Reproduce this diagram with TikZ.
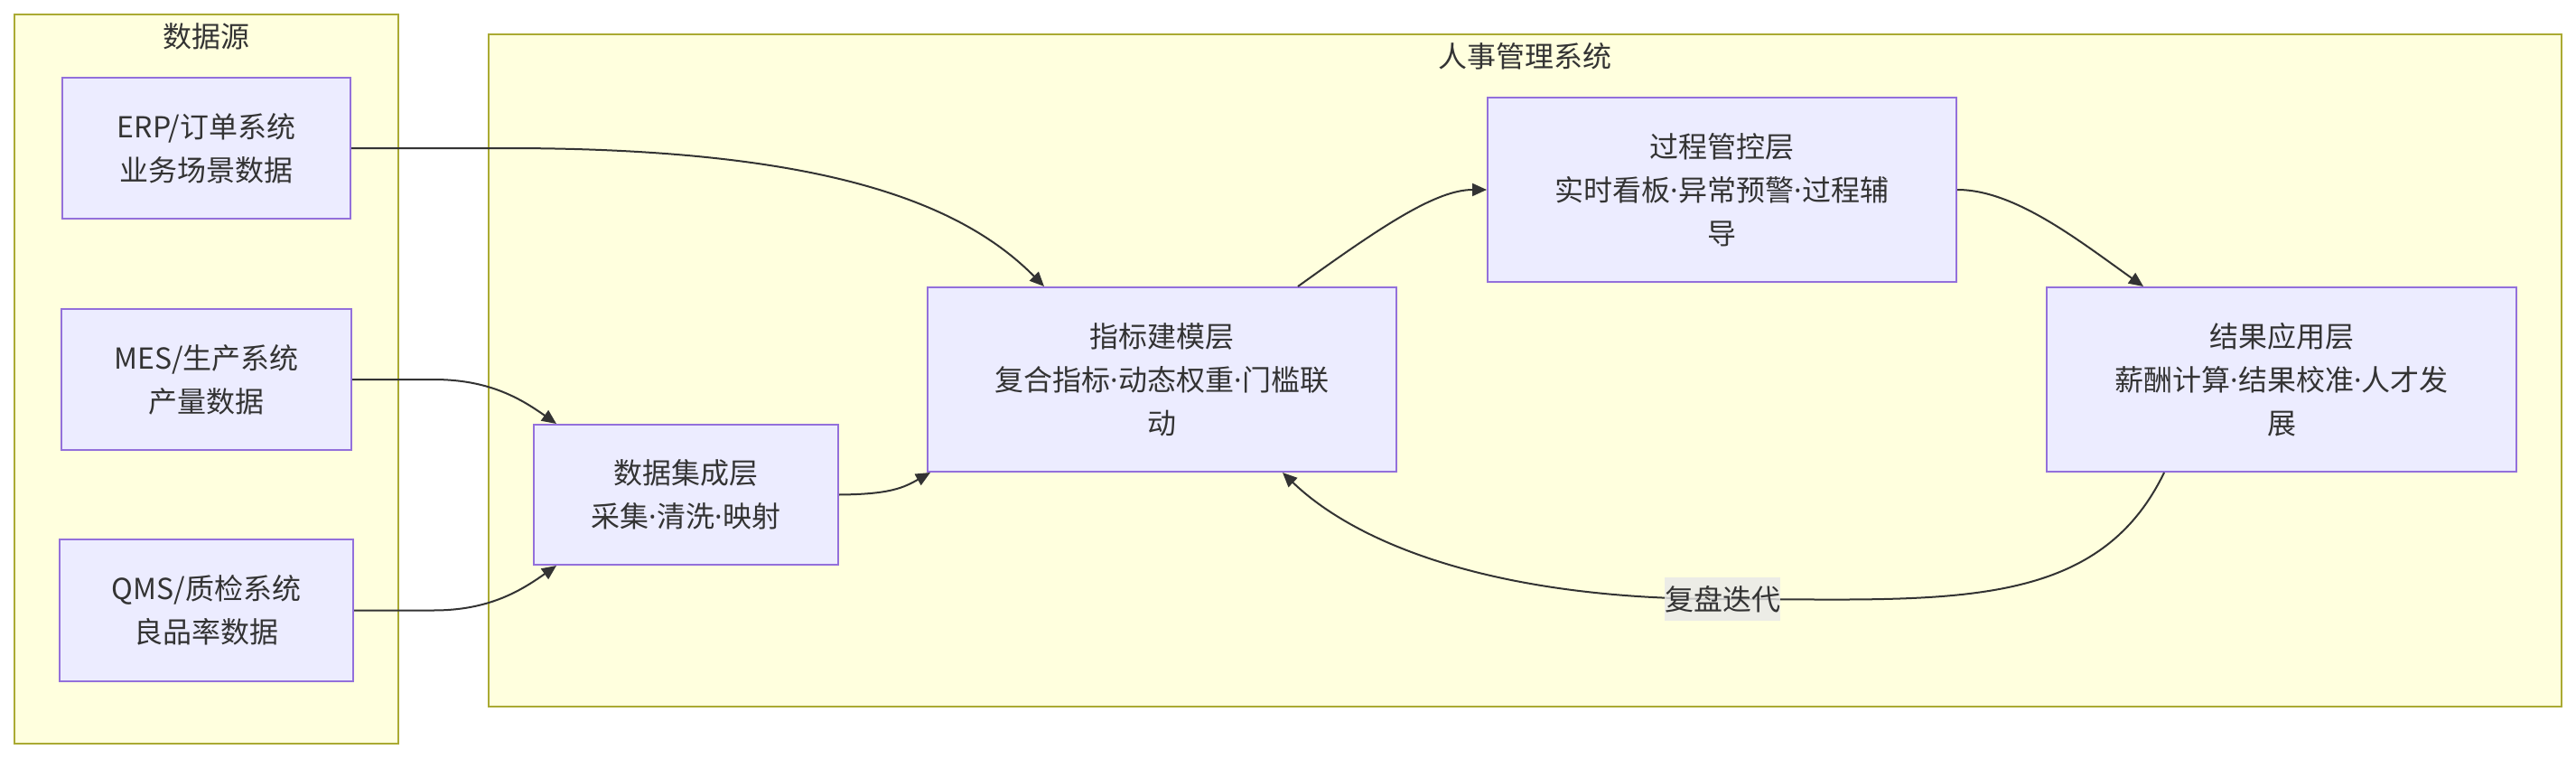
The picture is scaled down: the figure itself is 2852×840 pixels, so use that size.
\documentclass[tikz,border=0pt]{standalone}
\usepackage{fontspec}
\setmainfont{Noto Sans CJK SC}
\newfontfamily\latinf{Noto Sans}
\newcommand{\mdot}{{\latinf ·}}
\usetikzlibrary{arrows.meta,calc}
\definecolor{clfill}{HTML}{FFFFDE}
\definecolor{clline}{HTML}{AAAA33}
\definecolor{ndfill}{HTML}{ECECFF}
\definecolor{ndline}{HTML}{9370DB}
\definecolor{txt}{HTML}{333333}
\definecolor{lblbg}{HTML}{E8E8E8}
\begin{document}
\begin{tikzpicture}[x=1pt,y=-1pt,
  cluster/.style={draw=clline,fill=clfill,line width=2pt,inner sep=0pt},
  box/.style={draw=ndline,fill=ndfill,line width=2pt,align=center,text=txt,
    font=\fontsize{32pt}{48pt}\selectfont,inner sep=0pt},
  ttl/.style={text=txt,font=\fontsize{32pt}{40pt}\selectfont,inner sep=0pt},
  edge/.style={draw=txt,line width=2pt,-{Triangle[length=16pt,width=14pt]}},
  lbl/.style={fill=lblbg,fill opacity=0.8,text opacity=1,text=txt,
    font=\fontsize{32pt}{40pt}\selectfont,inner sep=0pt,minimum width=128pt,minimum height=48pt}]
\useasboundingbox[fill=white] (0,0) rectangle (2852,840);
% clusters
\node[cluster,minimum width=425pt,minimum height=807pt] (src) at (228.5,419.5) {};
\node[ttl] (srct) at (228.5,40) {数据源};
\node[cluster,minimum width=2295pt,minimum height=744pt] (hr) at (1688.5,410) {};
\node[ttl] (hrt) at (1688.5,62) {人事管理系统};
% nodes
\node[box,minimum width=319pt,minimum height=156pt] (erp) at (228.5,164) {ERP/订单系统\\业务场景数据};
\node[box,minimum width=321pt,minimum height=156pt] (mes) at (228.5,420) {MES/生产系统\\产量数据};
\node[box,minimum width=325pt,minimum height=157pt] (qms) at (228.5,675.5) {QMS/质检系统\\良品率数据};
\node[box,minimum width=337pt,minimum height=155pt] (ji) at (759.5,547.5) {数据集成层\\采集\mdot 清洗\mdot 映射};
\node[box,minimum width=519pt,minimum height=204pt] (jb) at (1286.5,420) {指标建模层\\复合指标\mdot 动态权重\mdot 门槛联\\动};
\node[box,minimum width=519pt,minimum height=204pt] (gc) at (1906.5,210) {过程管控层\\实时看板\mdot 异常预警\mdot 过程辅\\导};
\node[box,minimum width=520pt,minimum height=204pt] (jg) at (2526,420) {结果应用层\\薪酬计算\mdot 结果校准\mdot 人才发\\展};
% edges
\draw[edge] (erp.east) -- (560,164) .. controls (900,164) and (1060,220) .. ($(jb.north west)+(130,0)$);
\draw[edge] (mes.east) -- (480,420) .. controls (540,420) and (575,440) .. ($(ji.north west)+(26,0)$);
\draw[edge] (qms.east) -- (480,675.5) .. controls (540,675.5) and (575,655) .. ($(ji.south west)+(26,0)$);
\draw[edge] (ji.east) .. controls (985,547) and (1000,540) .. ($(jb.south west)+(4,0)$);
\draw[edge] ($(jb.north west)+(411,0)$) .. controls (1530,250) and (1590,210) .. (gc.west);
\draw[edge] (gc.east) .. controls (2230,210) and (2300,265) .. ($(jg.north west)+(108,0)$);
\coordinate (lp) at (1907,663);
\draw[edge] ($(jg.south west)+(131,0)$) .. controls (2320,680) and (2150,663) .. (lp) .. controls (1650,663) and (1500,600) .. ($(jb.south west)+(394,0)$);
\node[lbl] (lb) at (lp) {复盘迭代};
\end{tikzpicture}
\end{document}
